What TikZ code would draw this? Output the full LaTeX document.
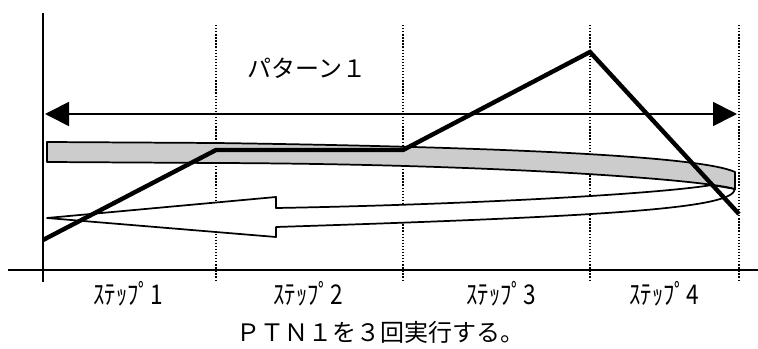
\documentclass[tikz,border=0pt]{standalone}
\usepackage{fontspec}
\usepackage{xcolor}
\usetikzlibrary{arrows.meta}
\newfontfamily\jpfont{Noto Sans CJK JP}
\definecolor{bandgray}{RGB}{204,204,204}
\newcommand{\tallkana}[1]{\scalebox{1}[1.2]{#1}}

\begin{document}
\begin{tikzpicture}[
  x=0.75pt, y=-0.75pt,
  axis/.style={line width=1.4pt},  grid/.style={line width=1pt,dash pattern=on 1pt off 1.3pt},  span/.style={line width=1.3pt,{Triangle[length=18pt,width=18pt]}-{Triangle[length=18pt,width=18pt]}},  ribbon/.style={draw,line width=1.3pt,line join=round},  profile/.style={line width=3.3pt,line join=miter},  lbl/.style={font=\jpfont\fontsize{18pt}{21pt}\selectfont,inner sep=0pt},  steplbl/.style={font=\jpfont\fontsize{17pt}{20pt}\selectfont,inner sep=0pt}
]
  \useasboundingbox (0,0) rectangle (758,349);
  % step borders
  \foreach \xs/\nm in {216/b1,403/b2,590/b3,739/b4}
    \draw[grid] (\xs,25) coordinate (\nm top) -- (\xs,281) coordinate (\nm bot);
  % axes
  \coordinate (ox) at (43,13);
  \coordinate (oy) at (43,282);
  \coordinate (hl) at (8,270);
  \coordinate (hr) at (758,270);
  \draw[axis] (ox) -- (oy);
  \draw[axis] (hl) -- (hr);
  % pattern span
  \coordinate (aL) at (45,114);
  \coordinate (aR) at (737,114);
  \draw[span] (aL) -- (aR);
  \node[lbl] (ptn) at (307,68) {パターン１};
  % return ribbon
  \draw[ribbon,fill=white] (735,189) .. controls (733,208) and (620,216) .. (276,227)
    -- (276,237) -- (47,218) -- (276,197) -- (276,208)
    .. controls (450,205) and (650,195) .. (712,185) -- cycle;
  % forward band
  \draw[ribbon,fill=bandgray] (47,142) -- (216,143)
    .. controls (500,147) and (700,156) .. (735,172) -- (735,189)
    .. controls (705,180) and (500,164) .. (216,163) -- (47,162) -- cycle;
  % speed profile
  \coordinate (p0) at (43,240);
  \coordinate (p1) at (216,150);
  \coordinate (p2) at (403,150);
  \coordinate (p3) at (590,52);
  \coordinate (p4) at (739,214);
  \draw[profile] (p0) -- (p1) -- (p2) -- (p3) -- (p4);
  % labels
  \node[steplbl] (s1) at (128,294) {\tallkana{ｽﾃｯﾌﾟ1}};
  \node[steplbl] (s2) at (308,294) {\tallkana{ｽﾃｯﾌﾟ2}};
  \node[steplbl] (s3) at (501,294) {\tallkana{ｽﾃｯﾌﾟ3}};
  \node[steplbl] (s4) at (664,294) {\tallkana{ｽﾃｯﾌﾟ4}};
  \node[lbl] (note) at (380,332) {ＰＴＮ１を３回実行する。};
\end{tikzpicture}
\end{document}
